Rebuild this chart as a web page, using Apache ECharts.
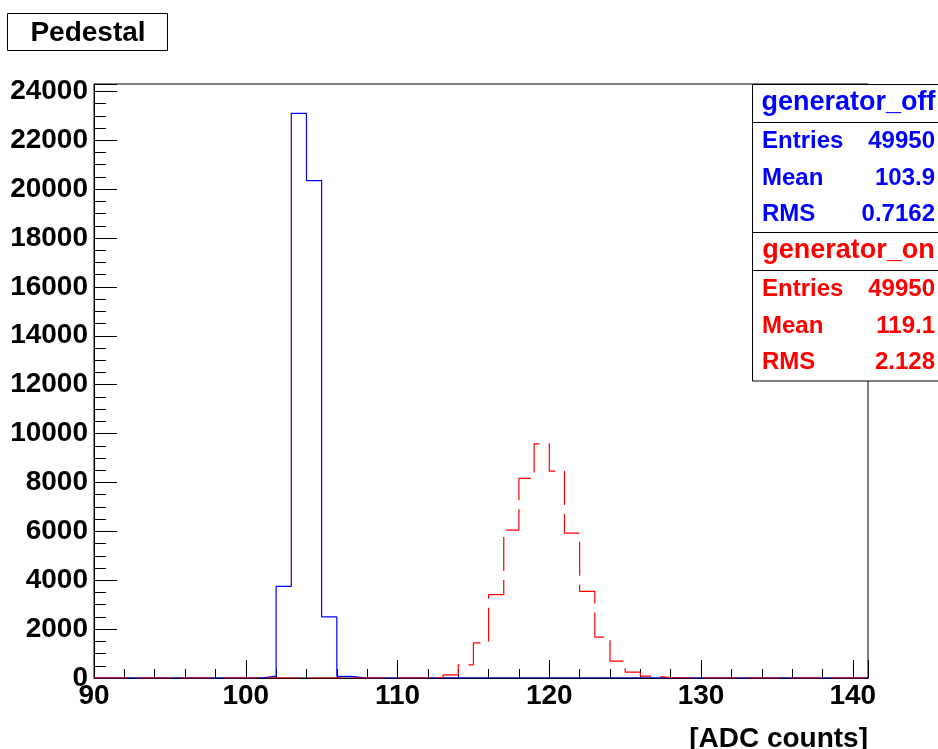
<!DOCTYPE html>
<html>
<head>
<meta charset="utf-8">
<title>Pedestal</title>
<script src="https://cdn.jsdelivr.net/npm/echarts@6/dist/echarts.min.js"></script>
<style>
  html, body { margin: 0; padding: 0; background: #fff; }
  #chart { width: 938px; height: 749px; }
</style>
</head>
<body>
<div id="chart"></div>
<script>
// Histogram binning: 51 bins of width 1 starting at 90 ADC counts
const binStart = 90;
const binEnd = 141;

// Bin contents, generator off (bins 90..140)
const generatorOff = [
  0, 0, 0, 0, 0, 0, 0, 0, 0, 0,          // 90-99
  0, 80, 3750, 23100, 20350, 2500, 70, 0, 0, 0, // 100-109
  0, 0, 0, 0, 0, 0, 0, 0, 0, 0,          // 110-119
  0, 0, 0, 0, 0, 0, 0, 0, 0, 0,          // 120-129
  0, 0, 0, 0, 0, 0, 0, 0, 0, 0,          // 130-139
  0                                       // 140
];

// Bin contents, generator on (bins 90..140)
const generatorOn = [
  0, 0, 0, 0, 0, 0, 0, 0, 0, 0,          // 90-99
  0, 0, 0, 0, 0, 0, 0, 0, 0, 0,          // 100-109
  0, 0, 30, 130, 540, 1440, 3410, 6050, 8170, 9580, // 110-119
  8460, 5930, 3540, 1670, 690, 240, 80, 20, 0, 0,   // 120-129
  0, 0, 0, 0, 0, 0, 0, 0, 0, 0,          // 130-139
  0                                       // 140
];

// Statistics boxes
const statsOff = { title: 'generator_off', rows: [['Entries', '49950'], ['Mean', '103.9'], ['RMS', '0.7162']] };
const statsOn  = { title: 'generator_on',  rows: [['Entries', '49950'], ['Mean', '119.1'], ['RMS', '2.128']] };

const yMax = 24300;
const FONT = '"Liberation Sans", Arial, Helvetica, sans-serif';

// Turn bin contents into step points: one point per lower edge plus the closing edge
function toSteps(values) {
  const pts = values.map((v, i) => [binStart + i, v]);
  pts.push([binEnd, values[values.length - 1]]);
  return pts;
}

const chart = echarts.init(document.getElementById('chart'), null, { renderer: 'canvas' });

const labelStyle = { fontFamily: FONT, fontWeight: 'bold', fontSize: 28, color: '#000' };

// Stats box graphics
function statsBlock(stats, top, color) {
  const els = [];
  els.push({
    type: 'text', z: 101,
    style: { text: stats.title, x: 848.5, y: top + 19, fill: color,
             font: 'bold 27px ' + FONT, textAlign: 'center', verticalAlign: 'middle' }
  });
  const rowY = [top + 57, top + 94, top + 130];
  stats.rows.forEach((r, i) => {
    els.push({
      type: 'text', z: 101,
      style: { text: r[0], x: 762, y: rowY[i], fill: color,
               font: 'bold 24px ' + FONT, textAlign: 'left', verticalAlign: 'middle' }
    });
    els.push({
      type: 'text', z: 101,
      style: { text: r[1], x: 935, y: rowY[i], fill: color,
               font: 'bold 24px ' + FONT, textAlign: 'right', verticalAlign: 'middle' }
    });
  });
  return els;
}

const line = (x1, y1, x2, y2) => ({
  type: 'line', z: 101,
  shape: { x1, y1, x2, y2 },
  style: { stroke: '#000', lineWidth: 1 }
});

const option = {
  backgroundColor: '#fff',
  animation: false,
  grid: {
    left: 94, right: 70, top: 84, bottom: 71,
    show: true, borderColor: '#000', borderWidth: 1, backgroundColor: 'transparent'
  },
  xAxis: [
    {
      type: 'value', min: binStart, max: binEnd, interval: 10,
      axisLine: { show: true, lineStyle: { color: '#000', width: 1 } },
      axisTick: { show: true, inside: true, length: 18, lineStyle: { color: '#000' } },
      axisLabel: Object.assign({ margin: 4, formatter: v => (v % 10 === 0 ? String(v) : '') }, labelStyle),
      splitLine: { show: false }
    },
    {
      type: 'value', min: binStart, max: binEnd, interval: 2, position: 'bottom',
      axisLine: { show: false },
      axisTick: { show: true, inside: true, length: 9, lineStyle: { color: '#000' } },
      axisLabel: { show: false },
      splitLine: { show: false }
    }
  ],
  yAxis: [
    {
      type: 'value', min: 0, max: yMax, interval: 2000,
      axisLine: { show: true, lineStyle: { color: '#000', width: 1 } },
      axisTick: { show: true, inside: true, length: 23, lineStyle: { color: '#000' } },
      axisLabel: Object.assign({ margin: 6, padding: [4, 0, 0, 0],
        formatter: v => (v % 2000 === 0 ? String(v) : '') }, labelStyle),
      splitLine: { show: false }
    },
    {
      type: 'value', min: 0, max: yMax, interval: 500, position: 'left',
      axisLine: { show: false },
      axisTick: { show: true, inside: true, length: 12, lineStyle: { color: '#000' } },
      axisLabel: { show: false },
      splitLine: { show: false }
    }
  ],
  series: [
    {
      name: 'generator_off', type: 'line', step: 'end',
      xAxisIndex: 0, yAxisIndex: 0,
      data: toSteps(generatorOff),
      showSymbol: false, symbol: 'none',
      lineStyle: { color: '#0000ff', width: 1.2 },
      z: 3
    },
    {
      name: 'generator_on', type: 'line', step: 'end',
      xAxisIndex: 0, yAxisIndex: 0,
      data: toSteps(generatorOn),
      showSymbol: false, symbol: 'none',
      lineStyle: { color: '#ff0000', width: 1.2, type: [34, 9] },
      z: 4
    }
  ],
  graphic: [
    // Title box
    {
      type: 'rect', z: 100,
      shape: { x: 7.5, y: 13.5, width: 160, height: 37 },
      style: { fill: '#fff', stroke: '#000', lineWidth: 1 }
    },
    {
      type: 'text', z: 101,
      style: { text: 'Pedestal', x: 88, y: 33.5, fill: '#000',
               font: 'bold 28px ' + FONT, textAlign: 'center', verticalAlign: 'middle' }
    },
    // X axis title
    {
      type: 'text', z: 101,
      style: { text: '[ADC counts]', x: 868, y: 739, fill: '#000',
               font: 'bold 28px ' + FONT, textAlign: 'right', verticalAlign: 'middle' }
    },
    // Stats box frame
    {
      type: 'rect', z: 100,
      shape: { x: 752.5, y: 84.5, width: 193, height: 296.5 },
      style: { fill: '#fff', stroke: '#000', lineWidth: 1 }
    },
    line(752.5, 122.5, 946, 122.5),
    line(752.5, 232.5, 946, 232.5),
    line(752.5, 270.5, 946, 270.5)
  ]
    .concat(statsBlock(statsOff, 84, '#0000ff'))
    .concat(statsBlock(statsOn, 232, '#ff0000'))
};

chart.setOption(option);
</script>
</body>
</html>
